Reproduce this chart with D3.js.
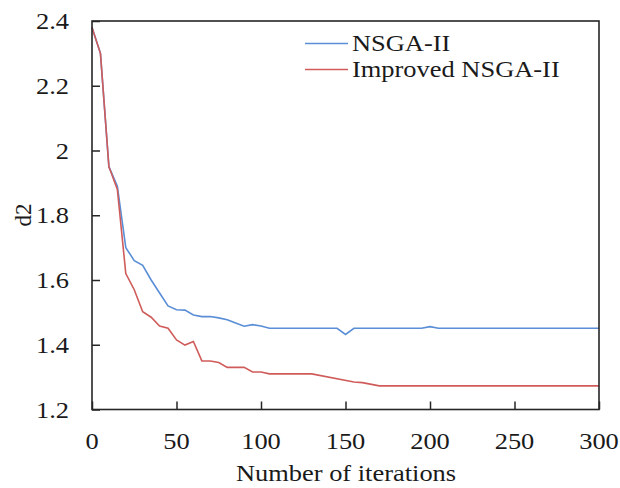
<!DOCTYPE html>
<html>
<head>
<meta charset="utf-8">
<script src="https://cdn.jsdelivr.net/npm/d3@7"></script>
<style>
    body { margin: 0; background: #fff; }
    svg text { font-family: "Liberation Serif", "Times New Roman", serif; fill: #1a1a1a; }
</style>
</head>
<body>
<svg id="grafico" width="620" height="488"></svg>
<script>
let nsgaIter = [0, 5, 10, 15, 20, 25, 30, 35, 40, 45, 50, 55, 60, 65, 70, 75, 80, 85, 90, 95, 100, 105, 145, 150, 155, 195, 200, 205, 300];
let nsgaValues = [2.38, 2.30, 1.95, 1.89, 1.70, 1.66, 1.645, 1.60, 1.56, 1.52, 1.508, 1.507, 1.492, 1.487, 1.487, 1.483, 1.477, 1.467, 1.457, 1.462, 1.458, 1.451, 1.451, 1.432, 1.451, 1.451, 1.456, 1.451, 1.451];

let improvedIter = [0, 5, 10, 15, 20, 25, 30, 35, 40, 45, 50, 55, 60, 65, 70, 75, 80, 85, 90, 95, 100, 105, 130, 155, 160, 170, 300];
let improvedValues = [2.38, 2.30, 1.95, 1.88, 1.62, 1.57, 1.502, 1.485, 1.458, 1.451, 1.415, 1.399, 1.410, 1.350, 1.350, 1.345, 1.330, 1.330, 1.330, 1.316, 1.316, 1.310, 1.310, 1.285, 1.283, 1.273, 1.273];

let xTicks = [0, 50, 100, 150, 200, 250, 300];
let yTicks = [1.2, 1.4, 1.6, 1.8, 2, 2.2, 2.4];
let seriesNames = ["NSGA-II", "Improved NSGA-II"];

let plotLeft = 92, plotRight = 599, plotTop = 21, plotBottom = 409.5;
let fontSize = 23, stretch = 1.15;

let x = d3.scaleLinear().domain([0, 300]).range([plotLeft, plotRight]);
let y = d3.scaleLinear().domain([1.2, 2.4]).range([plotBottom, plotTop]);

let svg = d3.select("#grafico");

// text a bit wider than tall, like the original picture
function label(px, py, txt, anchor) {
    return svg.append("text")
        .attr("transform", `translate(${px},${py}) scale(${stretch},1)`)
        .attr("text-anchor", anchor)
        .style("font-size", fontSize + "px")
        .text(txt);
}

let series = [
    { name: seriesNames[0], color: "#5a8ed6", pts: nsgaIter.map((t, i) => [t, nsgaValues[i]]) },
    { name: seriesNames[1], color: "#cf5c5a", pts: improvedIter.map((t, i) => [t, improvedValues[i]]) }
];

let line = d3.line().x(d => x(d[0])).y(d => y(d[1]));

series.forEach(s => {
    svg.append("path")
        .attr("d", line(s.pts))
        .attr("fill", "none")
        .attr("stroke", s.color)
        .attr("stroke-width", 1.6);
});

// axes with inward ticks
let xAxis = svg.append("g")
    .attr("transform", `translate(0,${plotBottom})`)
    .call(d3.axisTop(x).tickValues(xTicks).tickSize(8).tickFormat(""));
let yAxis = svg.append("g")
    .attr("transform", `translate(${plotLeft},0)`)
    .call(d3.axisRight(y).tickValues(yTicks).tickSize(8).tickFormat(""));
[xAxis, yAxis].forEach(a => {
    a.selectAll("path").remove();
    a.selectAll("line").attr("stroke", "#262626").attr("stroke-width", 1.5);
});

svg.append("rect")
    .attr("x", plotLeft).attr("y", plotTop)
    .attr("width", plotRight - plotLeft).attr("height", plotBottom - plotTop)
    .attr("fill", "none")
    .attr("stroke", "#262626")
    .attr("stroke-width", 1.6);

xTicks.forEach(t => label(x(t), plotBottom + 39, t, "middle"));
yTicks.forEach(t => label(69, y(t) + 8, t, "end"));

label(346, 481, "Number of iterations", "middle");

svg.append("text")
    .attr("transform", `translate(31,215) rotate(-90)`)
    .attr("text-anchor", "middle")
    .style("font-size", fontSize + "px")
    .text("d2");

// legend
series.forEach((s, i) => {
    let ly = 43.5 + i * 26;
    svg.append("line")
        .attr("x1", 305).attr("x2", 348)
        .attr("y1", ly).attr("y2", ly)
        .attr("stroke", s.color)
        .attr("stroke-width", 1.6);
    label(352, ly + 7.5, s.name, "start");
});
</script>
</body>
</html>
